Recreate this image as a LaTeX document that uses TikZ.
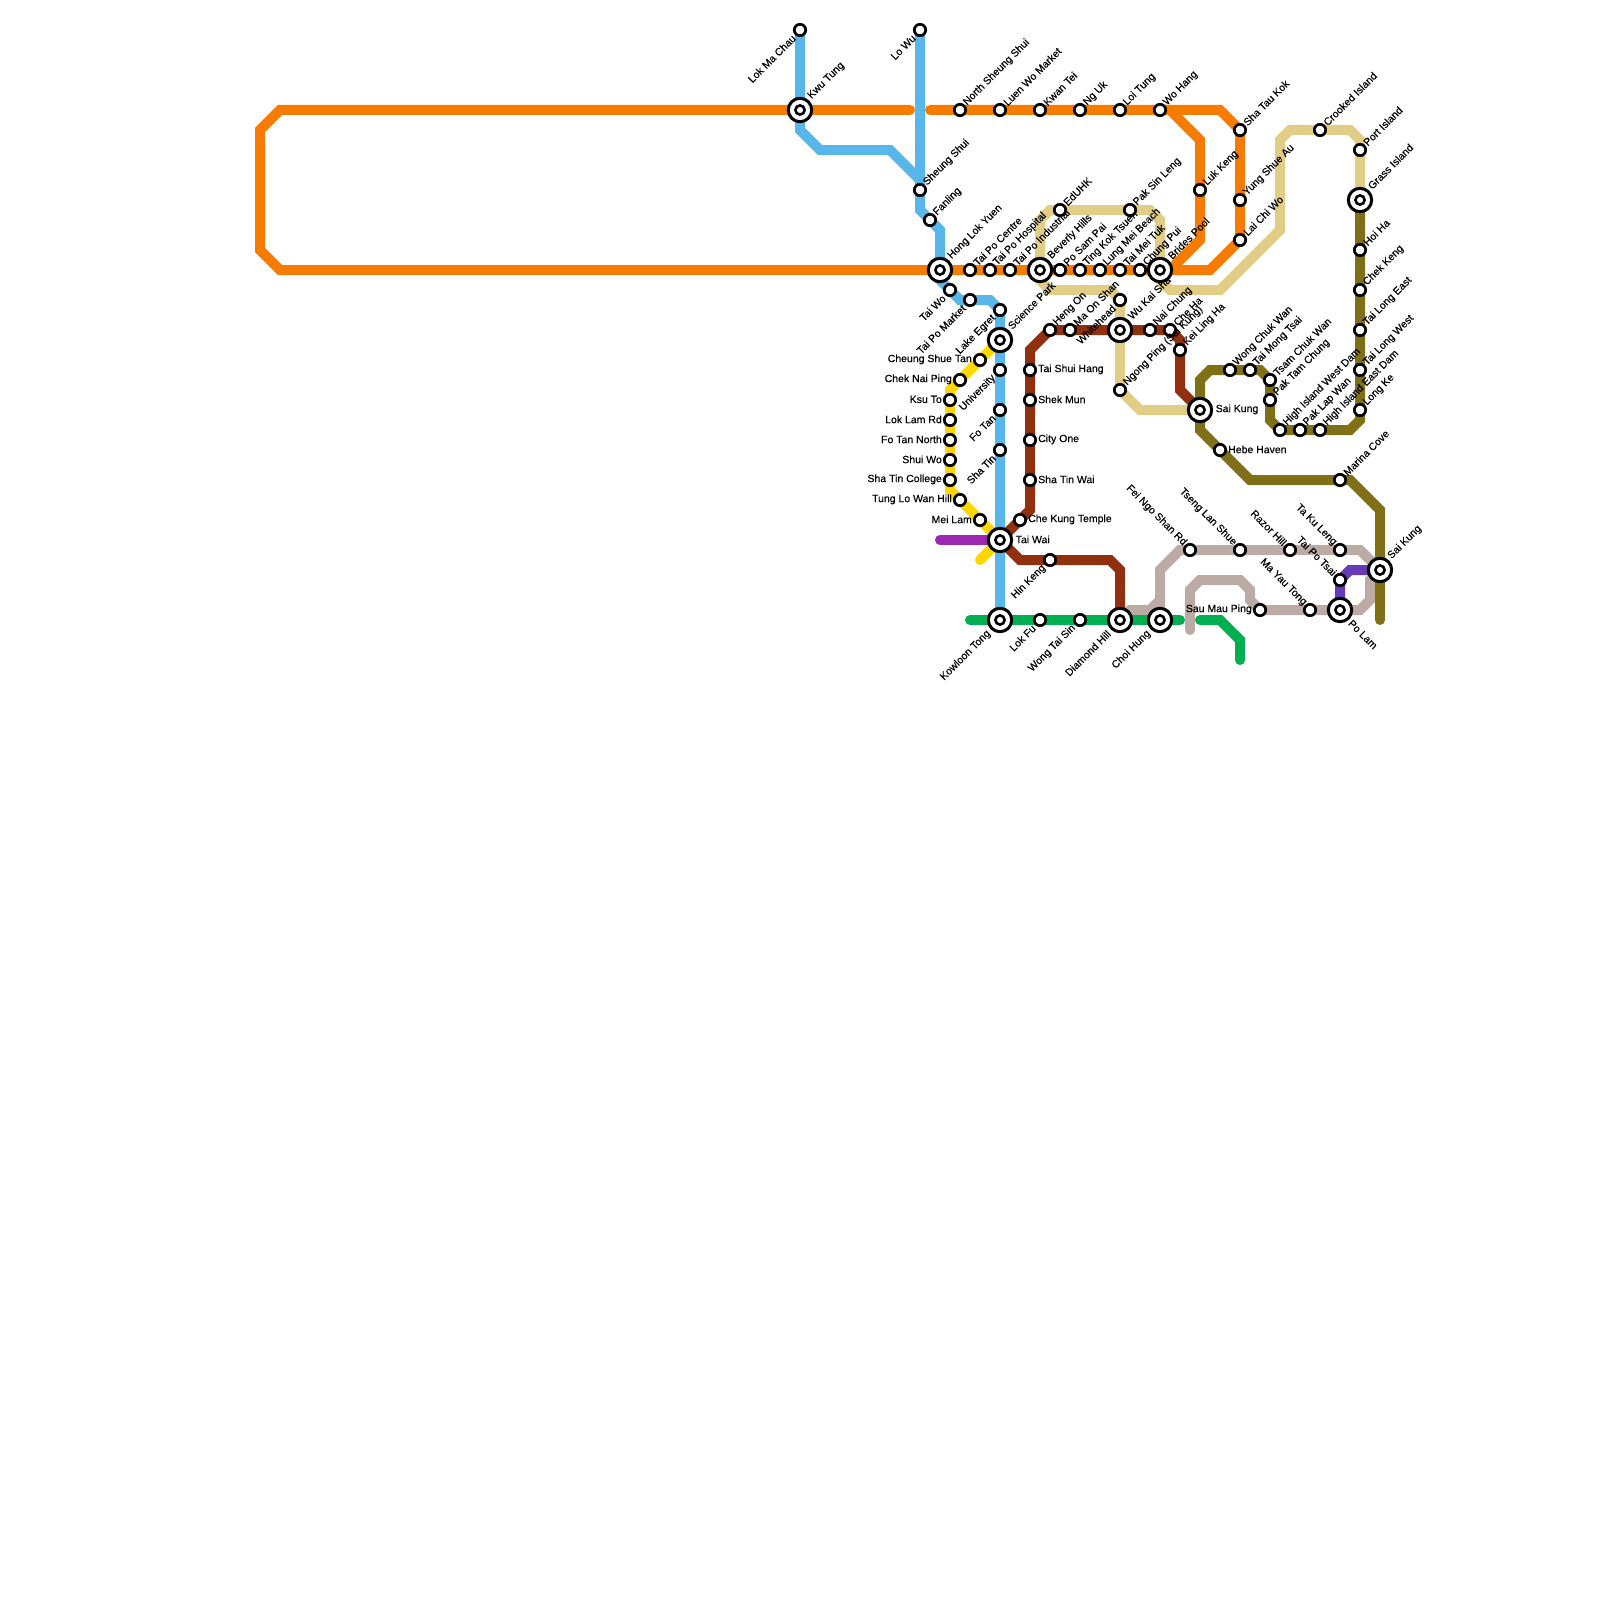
\documentclass[tikz,border=0pt]{standalone}
\usepackage{fontspec}
\setmainfont{Liberation Sans}
\newfontfamily\mapfont[FakeBold=0.3]{Liberation Sans}
\usepackage{tikz}
\usetikzlibrary{backgrounds}
\definecolor{lnorange}{HTML}{F57C00}
\definecolor{lnblue}{HTML}{56B7E8}
\definecolor{lntan}{HTML}{E1CD85}
\definecolor{lnolive}{HTML}{7F7017}
\definecolor{lnbrown}{HTML}{91300F}
\definecolor{lnyellow}{HTML}{FFD700}
\definecolor{lnpurple}{HTML}{9C27B0}
\definecolor{lndeep}{HTML}{673AB7}
\definecolor{lngreen}{HTML}{00AF50}
\definecolor{lntaupe}{HTML}{BCAAA4}
\tikzset{
  ln/.style={draw=#1, line width=10pt, line cap=round, line join=miter},
  stn/.style={circle, draw=black, fill=white, line width=2.7pt, minimum size=11.4pt, inner sep=0pt},
  hub/.style={stn, line width=3pt, minimum size=23.4pt, path picture={\draw[line width=2.6pt] (path picture bounding box.center) circle (4.6pt);}},
  lab/.style={inner sep=0pt, text=black, font=\mapfont\fontsize{10.5}{10.5}\selectfont},
  tne/.style={lab, anchor=west, xshift=5pt, yshift=6pt, rotate=45},
  tsw/.style={lab, anchor=east, xshift=-6pt, yshift=-6.5pt, rotate=45},
  tnw/.style={lab, anchor=east, xshift=-5pt, yshift=6pt, rotate=-45},
  te/.style={lab, anchor=west, xshift=8pt, yshift=0.6pt},
  tw/.style={lab, anchor=east, xshift=-8pt, yshift=0.6pt},
  hne/.style={lab, anchor=west, xshift=9.5pt, yshift=12.5pt, rotate=45},
  hsw/.style={lab, anchor=east, xshift=-11pt, yshift=-12pt, rotate=45},
  hse/.style={lab, anchor=west, xshift=10pt, yshift=-11.5pt, rotate=-45},
  he/.style={lab, anchor=west, xshift=15.5pt, yshift=0.6pt}
}
\newcommand{\halt}[5]{\node[#1] (#2) at (#3) {}; \node[#4] (#2t) at (#2) {#5};}

\begin{document}
\begin{tikzpicture}[x=1pt, y=-1pt]
\useasboundingbox (0,0) rectangle (1600,1600);
% north
\halt{stn}{lokmachau}{800,30}{tsw}{Lok Ma Chau}
\halt{stn}{lowu}{920,30}{tsw}{Lo Wu}
\halt{hub}{kwutung}{800,110}{hne}{Kwu Tung}
\halt{stn}{nsheungshui}{960,110}{tne}{North Sheung Shui}
\halt{stn}{luenwo}{1000,110}{tne}{Luen Wo Market}
\halt{stn}{kwantei}{1040,110}{tne}{Kwan Tei}
\halt{stn}{nguk}{1080,110}{tne}{Ng Uk}
\halt{stn}{loitung}{1120,110}{tne}{Loi Tung}
\halt{stn}{wohang}{1160,110}{tne}{Wo Hang}
\halt{stn}{shataukok}{1240,130}{tne}{Sha Tau Kok}
\halt{stn}{yungshueau}{1240,200}{tne}{Yung Shue Au}
\halt{stn}{laichiwo}{1240,240}{tne}{Lai Chi Wo}
\halt{stn}{lukkeng}{1200,190}{tne}{Luk Keng}
\halt{stn}{sheungshui}{920,190}{tne}{Sheung Shui}
\halt{stn}{fanling}{930,220}{tne}{Fanling}
% tolo harbour
\halt{hub}{honglok}{940,270}{hne}{Hong Lok Yuen}
\halt{stn}{taipocentre}{970,270}{tne}{Tai Po Centre}
\halt{stn}{taipohosp}{990,270}{tne}{Tai Po Hospital}
\halt{stn}{taipoind}{1010,270}{tne}{Tai Po Industrial}
\halt{hub}{beverly}{1040,270}{hne}{Beverly Hills}
\halt{stn}{posampai}{1060,270}{tne}{Po Sam Pai}
\halt{stn}{tingkok}{1080,270}{tne}{Ting Kok Tsuen}
\halt{stn}{lungmei}{1100,270}{tne}{Lung Mei Beach}
\halt{stn}{taimeituk}{1120,270}{tne}{Tai Mei Tuk}
\halt{stn}{chungpui}{1140,270}{tne}{Chung Pui}
\halt{hub}{brides}{1160,270}{hne}{Brides Pool}
\halt{stn}{eduhk}{1060,210}{tne}{EdUHK}
\halt{stn}{paksinleng}{1130,210}{tne}{Pak Sin Leng}
\halt{stn}{crooked}{1320,130}{tne}{Crooked Island}
\halt{stn}{port}{1360,150}{tne}{Port Island}
\halt{hub}{grass}{1360,200}{hne}{Grass Island}
% east rail
\halt{stn}{taiwo}{950,290}{tsw}{Tai Wo}
\halt{stn}{taipomkt}{970,300}{tsw}{Tai Po Market}
\halt{stn}{lakeegret}{1000,310}{tsw}{Lake Egret}
\halt{hub}{science}{1000,340}{hne}{Science Park}
\halt{stn}{university}{1000,370}{tsw}{University}
\halt{stn}{fotan}{1000,410}{tsw}{Fo Tan}
\halt{stn}{shatin}{1000,450}{tsw}{Sha Tin}
\halt{hub}{taiwai}{1000,540}{he}{Tai Wai}
\halt{hub}{kowloontong}{1000,620}{hsw}{Kowloon Tong}
% yellow line
\halt{stn}{cheungshue}{980,360}{tw}{Cheung Shue Tan}
\halt{stn}{cheknai}{960,380}{tw}{Chek Nai Ping}
\halt{stn}{ksuto}{950,400}{tw}{Ksu To}
\halt{stn}{loklam}{950,420}{tw}{Lok Lam Rd}
\halt{stn}{fotann}{950,440}{tw}{Fo Tan North}
\halt{stn}{shuiwo}{950,460}{tw}{Shui Wo}
\halt{stn}{shatincol}{950,480}{tw}{Sha Tin College}
\halt{stn}{tunglo}{960,500}{tw}{Tung Lo Wan Hill}
\halt{stn}{meilam}{980,520}{tw}{Mei Lam}
% ma on shan
\halt{stn}{chekung}{1020,520}{te}{Che Kung Temple}
\halt{stn}{shatinwai}{1030,480}{te}{Sha Tin Wai}
\halt{stn}{cityone}{1030,440}{te}{City One}
\halt{stn}{shekmun}{1030,400}{te}{Shek Mun}
\halt{stn}{taishui}{1030,370}{te}{Tai Shui Hang}
\halt{stn}{hengon}{1050,330}{tne}{Heng On}
\halt{stn}{maonshan}{1070,330}{tne}{Ma On Shan}
\halt{stn}{whitehead}{1120,300}{tsw}{Whitehead}
\halt{hub}{wukaisha}{1120,330}{hne}{Wu Kai Sha}
\halt{stn}{naichung}{1150,330}{tne}{Nai Chung}
\halt{stn}{cheha}{1170,330}{tne}{Che Ha}
\halt{stn}{keiling}{1180,350}{tne}{Kei Ling Ha}
\halt{stn}{ngongping}{1120,390}{tne}{Ngong Ping (Sai Kung)}
\halt{stn}{hinkeng}{1050,560}{tsw}{Hin Keng}
% sai kung
\halt{hub}{saikung}{1200,410}{he}{Sai Kung}
\halt{stn}{hebe}{1220,450}{te}{Hebe Haven}
\halt{stn}{wongchuk}{1230,370}{tne}{Wong Chuk Wan}
\halt{stn}{taimong}{1250,370}{tne}{Tai Mong Tsai}
\halt{stn}{tsamchuk}{1270,380}{tne}{Tsam Chuk Wan}
\halt{stn}{paktam}{1270,400}{tne}{Pak Tam Chung}
\halt{stn}{hiwest}{1280,430}{tne}{High Island West Dam}
\halt{stn}{paklap}{1300,430}{tne}{Pak Lap Wan}
\halt{stn}{hieast}{1320,430}{tne}{High Island East Dam}
\halt{stn}{longke}{1360,410}{tne}{Long Ke}
\halt{stn}{tailongw}{1360,370}{tne}{Tai Long West}
\halt{stn}{tailonge}{1360,330}{tne}{Tai Long East}
\halt{stn}{chekkeng}{1360,290}{tne}{Chek Keng}
\halt{stn}{hoiha}{1360,250}{tne}{Hoi Ha}
\halt{stn}{marina}{1340,480}{tne}{Marina Cove}
\halt{hub}{saikungb}{1380,570}{hne}{Sai Kung}
% kowloon
\halt{stn}{lokfu}{1040,620}{tsw}{Lok Fu}
\halt{stn}{wongtaisin}{1080,620}{tsw}{Wong Tai Sin}
\halt{hub}{diamond}{1120,620}{hsw}{Diamond Hill}
\halt{hub}{choihung}{1160,620}{hsw}{Choi Hung}
\halt{stn}{feingo}{1190,550}{tnw}{Fei Ngo Shan Rd}
\halt{stn}{tsenglan}{1240,550}{tnw}{Tseng Lan Shue}
\halt{stn}{razor}{1290,550}{tnw}{Razor Hill}
\halt{stn}{takuleng}{1340,550}{tnw}{Ta Ku Leng}
\halt{stn}{taipotsai}{1340,580}{tnw}{Tai Po Tsai}
\halt{stn}{mayautong}{1310,610}{tnw}{Ma Yau Tong}
\halt{stn}{saumau}{1260,610}{tw}{Sau Mau Ping}
\halt{hub}{polam}{1340,610}{hse}{Po Lam}
% free line ends
\coordinate (orw) at (910,110);
\coordinate (ore) at (930,110);
\coordinate (yend) at (980,560);
\coordinate (pend) at (940,540);
\coordinate (olend) at (1380,620);
\coordinate (twend) at (1190,630);
\coordinate (gwest) at (970,620);
\coordinate (geast) at (1180,620);
\coordinate (gnext) at (1200,620);
\coordinate (gend) at (1240,660);

\begin{scope}[on background layer]
\draw[ln=lntan] (beverly.center) -- ++(0,-50) -- ++(10,-10) -- (eduhk.center) -- (paksinleng.center) -- ++(20,0) -- ++(10,10) -- (brides.center) -- ++(0,10) -- ++(10,10) -- ++(50,0) -- ++(60,-60) -- ++(0,-90) -- ++(10,-10) -- (crooked.center) -- ++(30,0) -- ++(10,10) -- (port.center) -- (grass.center);
\draw[ln=lntan] (beverly.center) -- ++(0,10) -- ++(10,10) -- ++(60,0) -- (whitehead.center) -- (ngongping.center) -- ++(20,20) -- (saikung.center);
\draw[ln=lntaupe] (choihung.center) -- ++(0,-50) -- ++(20,-20) -- (takuleng.center) -- ++(20,0) -- (saikungb.center);
\draw[ln=lntaupe] (diamond.center) -- ++(10,-10) -- ++(20,0) -- ++(10,-10);
\draw[ln=lntaupe] (saikungb.center) -- ++(-10,10) -- ++(0,20) -- ++(-10,10) -- (saumau.center) -- ++(-10,-10) -- ++(0,-10) -- ++(-10,-10) -- ++(-40,0) -- ++(-10,10) -- (twend);
\draw[ln=lnorange] (orw) -- (kwutung.center) -- ++(-520,0) -- ++(-20,20) -- ++(0,120) -- ++(20,20) -- (honglok.center) -- (brides.center) -- ++(50,0) -- (laichiwo.center) -- (shataukok.center) -- ++(-20,-20) -- (ore);
\draw[ln=lnorange] (wohang.center) -- ++(10,0) -- ++(30,30) -- (lukkeng.center) -- ++(0,50) -- ++(-30,30) -- (brides.center);
\draw[ln=lnblue] (lokmachau.center) -- (kwutung.center) -- ++(0,20) -- ++(20,20) -- ++(70,0) -- ++(30,30) -- (sheungshui.center);
\draw[ln=lnblue] (lowu.center) -- (sheungshui.center) -- ++(0,20) -- (fanling.center) -- ++(10,10) -- (honglok.center) -- ++(0,10) -- (taiwo.center) -- ++(10,10) -- (taipomkt.center) -- ++(20,0) -- (lakeegret.center) -- (kowloontong.center);
\draw[ln=lnyellow] (science.center) -- (cheungshue.center) -- (cheknai.center) -- ++(-10,10) -- (shatincol.center) -- ++(0,10) -- (tunglo.center) -- (meilam.center) -- (taiwai.center) -- (yend);
\draw[ln=lnpurple] (pend) -- (taiwai.center);
\draw[ln=lnbrown] (taiwai.center) -- (chekung.center) -- ++(10,-10) -- (taishui.center) -- ++(0,-20) -- (hengon.center) -- (cheha.center) -- ++(10,10) -- (keiling.center) -- ++(0,40) -- (saikung.center);
\draw[ln=lnbrown] (taiwai.center) -- ++(20,20) -- (hinkeng.center) -- ++(60,0) -- ++(10,10) -- (diamond.center);
\draw[ln=lnolive] (grass.center) -- (longke.center) -- ++(0,10) -- ++(-10,10) -- (hiwest.center) -- ++(-10,-10) -- (tsamchuk.center) -- ++(-10,-10) -- (wongchuk.center) -- ++(-20,0) -- ++(-10,10) -- (saikung.center) -- ++(0,20) -- (hebe.center) -- ++(30,30) -- (marina.center) -- ++(10,0) -- ++(30,30) -- (saikungb.center) -- (olend);
\draw[ln=lndeep] (polam.center) -- (taipotsai.center) -- ++(10,-10) -- (saikungb.center);
\draw[ln=lngreen] (gwest) -- (geast);
\draw[ln=lngreen] (gnext) -- ++(20,0) -- ++(20,20) -- (gend);
\end{scope}
\end{tikzpicture}
\end{document}
